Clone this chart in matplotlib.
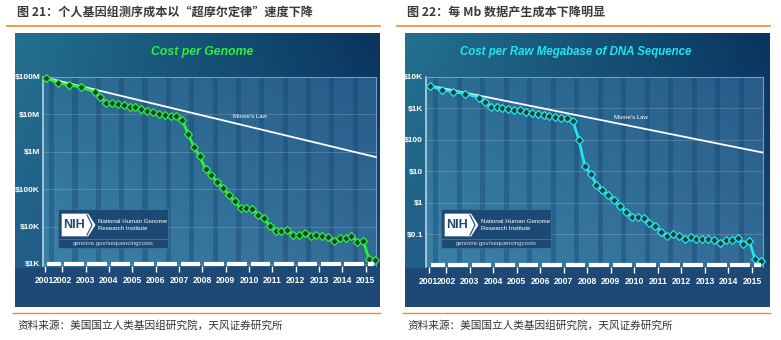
import numpy as np
import pandas as pd
import matplotlib
matplotlib.use("Agg")
import matplotlib.pyplot as plt
from matplotlib.patches import Rectangle, Polygon
from matplotlib.ticker import FixedLocator, NullLocator
from matplotlib.transforms import blended_transform_factory

W, H = 781, 340

# NIH sequencing cost data (quarterly)
DATES = ["Sep-01", "Mar-02", "Sep-02", "Mar-03", "Oct-03",
         "Jan-04", "Apr-04", "Jul-04", "Oct-04", "Jan-05", "Apr-05", "Jul-05", "Oct-05",
         "Jan-06", "Apr-06", "Jul-06", "Oct-06", "Jan-07", "Apr-07", "Jul-07", "Oct-07",
         "Jan-08", "Apr-08", "Jul-08", "Oct-08", "Jan-09", "Apr-09", "Jul-09", "Oct-09",
         "Jan-10", "Apr-10", "Jul-10", "Oct-10", "Jan-11", "Apr-11", "Jul-11", "Oct-11",
         "Jan-12", "Apr-12", "Jul-12", "Oct-12", "Jan-13", "Apr-13", "Jul-13", "Oct-13",
         "Jan-14", "Apr-14", "Jul-14", "Oct-14", "Jan-15", "Apr-15", "Jul-15", "Oct-15"]
COST_GENOME = [95263072, 70175437, 61448422, 53751684, 40157554,
               28780376, 20442576, 19934346, 18519312, 17534970, 16159699, 16180224, 13801124,
               12585659, 11455315, 10474556, 9408739, 9047003, 8927342, 7147571, 3063820,
               1352982, 752080, 342502, 232735, 154714, 108065, 70333, 46774,
               31512, 31125, 29092, 20963, 16712, 10497, 7743, 7666,
               7950, 5901, 5985, 6618, 5671, 5826, 5550, 5096,
               4008, 4920, 4905, 5731, 3970, 4211, 1363, 1245]
COST_MB = [5292.39, 3898.64, 3413.80, 2986.20, 2230.98,
           1598.91, 1135.70, 1107.46, 1028.85, 974.16, 897.76, 898.90, 766.73,
           699.20, 651.81, 636.41, 581.92, 522.71, 502.61, 495.96, 397.09,
           102.13, 15.03, 8.36, 3.81, 2.59, 1.72, 1.20, 0.78,
           0.52, 0.35, 0.35, 0.32, 0.23, 0.19, 0.12, 0.09,
           0.10, 0.09, 0.07, 0.08, 0.07, 0.07, 0.07, 0.065,
           0.055, 0.065, 0.065, 0.075, 0.05, 0.06, 0.016, 0.014]

MOORE_T = [2001.67, 2015.8]
MOORE_GENOME = [95e6, 0.72e6]
MOORE_MB = [5300, 40]

YEARS = [str(y) for y in range(2001, 2016)]
XTICKS = [2001.62, 2002.37] + [y + 0.36 for y in range(2003, 2016)]

Y_GENOME = [1e3, 1e4, 1e5, 1e6, 1e7, 1e8]
Y_GENOME_LBL = [r"\$1K", r"\$10K", r"\$100K", r"\$1M", r"\$10M", r"\$100M"]
Y_MB = [0.1, 1, 10, 100, 1e3, 1e4]
Y_MB_LBL = [r"\$0.1", r"\$1", r"\$10", r"\$100", r"\$1K", r"\$10K"]

HEAD_L = "图 21：个人基因组测序成本以“超摩尔定律”速度下降"
HEAD_R = "图 22：每 Mb 数据产生成本下降明显"
SOURCE = "资料来源：美国国立人类基因组研究院，天风证券研究所"

GREEN = "#2cf03a"
CYAN = "#22e6ee"
ORANGE = "#ef8a2c"
LATIN = ["Liberation Sans", "DejaVu Sans"]
CJK = ["Noto Sans CJK SC", "DejaVu Sans"]

dt = pd.to_datetime(DATES, format="%b-%y")
t = np.asarray(dt.year + (dt.month - 1) / 12.0)


def rgb(*c):
    return np.array(c) / 255.0


def fig_rect(x, y, w, h):
    return [x / W, 1 - (y + h) / H, w / W, h / H]


def grad(ax, x0, y0, x1, y1, tl, tr, bl, br, z=0):
    u = np.linspace(0, 1, 64)
    U, V = np.meshgrid(u, u)
    U, V = U[..., None], V[..., None]
    img = (1 - U) * (1 - V) * rgb(*tl) + U * (1 - V) * rgb(*tr) \
        + (1 - U) * V * rgb(*bl) + U * V * rgb(*br)
    ax.imshow(img, extent=(x0, x1, y1, y0), aspect="auto",
              interpolation="bilinear", zorder=z)


fig = plt.figure(figsize=(W / 100, H / 100), dpi=100)
fig.patch.set_facecolor("white")

bg = fig.add_axes([0, 0, 1, 1])
bg.axis("off")

panels = [
    dict(px=15, head=HEAD_L, title="Cost per Genome", col=GREEN, y=COST_GENOME,
         moore=MOORE_GENOME, yt=Y_GENOME, ytl=Y_GENOME_LBL, ylim=(880, 1.0e8),
         ax=(43, 77, 333, 189), xlim=(2001.54, 2015.8), moore_lbl=(2010.4, 8.6e6),
         title_x=202, title_fs=8.8),
    dict(px=405, head=HEAD_R, title="Cost per Raw Megabase of DNA Sequence", col=CYAN,
         y=COST_MB, moore=MOORE_MB, yt=Y_MB, ytl=Y_MB_LBL, ylim=(0.0092, 1.0e4),
         ax=(426, 77, 337, 190), xlim=(2001.5, 2015.83), moore_lbl=(2010.2, 520),
         title_x=576, title_fs=8.3),
]

for p in panels:
    px = p["px"]
    # header, rules and source
    bg.text(px + 2, 12, p["head"], fontsize=8.7, fontweight="bold", color="#3a3a3a",
            family=CJK, va="center", ha="left")
    bg.plot([px - 8, px + 365], [26, 26], color=ORANGE, lw=1.2)
    bg.plot([px - 2, px + 365], [313, 313], color=ORANGE, lw=1.0)
    bg.text(px + 2, 325, SOURCE, fontsize=7.7, color="#333333", family=CJK,
            va="center", ha="left")
    # dark panel
    grad(bg, px, 33, px + 365, 268, (36, 113, 142), (9, 52, 94),
         (33, 94, 136), (24, 70, 113))
    bg.add_patch(Rectangle((px, 268), 365, 39, color=rgb(30, 73, 118), lw=0, zorder=1))
    x0, y0, w, h = p["ax"]
    grad(bg, x0, y0, x0 + w, y0 + h, (44, 110, 148), (40, 92, 138),
         (58, 130, 168), (52, 108, 150), z=2)
    bg.text(p["title_x"], 52, p["title"], fontsize=p["title_fs"], fontweight="bold",
            style="italic", color=p["col"], family=LATIN, ha="center", va="center",
            zorder=3)

bg.set_xlim(0, W)
bg.set_ylim(H, 0)

for p in panels:
    x0, y0, w, h = p["ax"]
    ax = fig.add_axes(fig_rect(x0, y0, w, h))
    ax.set_facecolor("none")
    ax.set_yscale("log")
    ax.set_xlim(*p["xlim"])
    ax.set_ylim(*p["ylim"])

    for y in range(2002, 2016):
        ax.axvspan(y - 0.2, y + 0.02, color=rgb(22, 62, 104), alpha=0.35, lw=0, zorder=0)

    ax.yaxis.set_major_locator(FixedLocator(p["yt"]))
    ax.yaxis.set_minor_locator(NullLocator())
    ax.set_yticklabels(p["ytl"])
    ax.tick_params(axis="y", length=0, pad=2, labelsize=6, labelcolor="white")
    for lbl in ax.get_yticklabels():
        lbl.set_fontweight("bold")
        lbl.set_family(LATIN)
    ax.grid(axis="y", color="white", alpha=0.2, lw=0.6)

    ax.xaxis.set_major_locator(FixedLocator(XTICKS))
    ax.xaxis.set_minor_locator(NullLocator())
    ax.set_xticklabels(YEARS)
    ax.tick_params(axis="x", length=4, width=1, color="white", pad=3,
                   labelsize=6.2, labelcolor="white")
    for lbl in ax.get_xticklabels():
        lbl.set_fontweight("bold")
        lbl.set_family(LATIN)

    ax.spines["bottom"].set_visible(False)
    ax.spines["left"].set_color("#c9d9e8")
    ax.spines["left"].set_linewidth(1.1)
    for s in ("top", "right"):
        ax.spines[s].set_color("#6f9fc2")
        ax.spines[s].set_linewidth(0.8)

    # white segmented base bar
    tr = blended_transform_factory(ax.transData, ax.transAxes)
    edges = XTICKS + [p["xlim"][1]]
    for a, b in zip(edges[:-1], edges[1:]):
        ax.plot([a + 0.08, b - 0.08], [0.008, 0.008], color="white", lw=3,
                solid_capstyle="butt", transform=tr, clip_on=False, zorder=6)

    ax.plot(MOORE_T, p["moore"], color="white", lw=1.3, zorder=3, clip_on=False)
    ax.text(*p["moore_lbl"], "Moore's Law", fontsize=4.3, color="white",
            family=LATIN, ha="center", va="center")
    ax.plot(t, p["y"], color=p["col"], lw=2, marker="D", ms=3.6, mfc="#1c4036",
            mec=p["col"], mew=0.9, clip_on=False, zorder=5)

# NIH logo boxes on top
top = fig.add_axes([0, 0, 1, 1])
top.set_facecolor("none")
top.axis("off")
for p in panels:
    bx = p["ax"][0] + 15
    by = 209
    top.add_patch(Rectangle((bx, by), 110, 39, facecolor=rgb(28, 72, 114),
                            edgecolor=rgb(70, 118, 158), lw=0.5, alpha=0.95))
    top.plot([bx + 1, bx + 109], [by + 30, by + 30], color=rgb(70, 118, 158), lw=0.6)
    top.add_patch(Polygon([(bx + 4, by + 5), (bx + 30, by + 5), (bx + 37, by + 16),
                           (bx + 30, by + 27), (bx + 4, by + 27)],
                          closed=True, facecolor="white", edgecolor="white", lw=0.5))
    top.plot([bx + 29, bx + 34, bx + 29], [by + 6, by + 16, by + 26],
             color=rgb(28, 72, 114), lw=0.8)
    top.text(bx + 16, by + 16.5, "NIH", fontsize=9, fontweight="bold",
             color=rgb(28, 72, 114), family=LATIN, ha="center", va="center")
    top.text(bx + 40, by + 12.5, "National Human Genome", fontsize=4.4, color="white",
             family=LATIN, ha="left", va="center")
    top.text(bx + 40, by + 20, "Research Institute", fontsize=4.4, color="white",
             family=LATIN, ha="left", va="center")
    top.text(bx + 55, by + 34.5, "genome.gov/sequencingcosts", fontsize=4.4,
             color=rgb(205, 218, 232), family=LATIN, ha="center", va="center")
top.set_xlim(0, W)
top.set_ylim(H, 0)

fig.savefig("out.png", dpi=100)
